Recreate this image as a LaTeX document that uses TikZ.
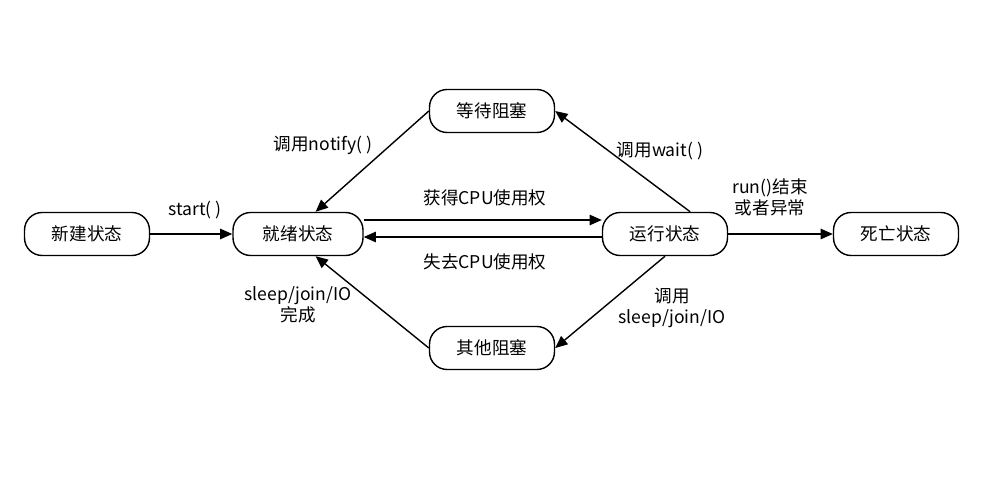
\documentclass[tikz,border=0pt]{standalone}
\usepackage{fontspec}
\setmainfont{Noto Sans CJK SC}
\usetikzlibrary{arrows.meta}
\begin{document}
\begin{tikzpicture}[x=0.02cm, y=-0.02cm,
	every node/.style={text=black, inner sep=2pt, font=\fontsize{10}{12}\selectfont},
	state/.style={draw, rounded corners=10pt, minimum width=2.5cm, minimum height=0.86cm, thick},
	tran/.style={-{Triangle[length=7pt,width=6pt]}, thick}]
	\useasboundingbox (0,0) rectangle (993,500);
	\node[state] (new) at (87,234) {新建状态};
	\node[state, minimum width=2.6cm] (ready) at (298,234) {就绪状态};
	\node[state] (run) at (665,234) {运行状态};
	\node[state] (dead) at (896,234) {死亡状态};
	\node[state] (wait) at (492,111) {等待阻塞};
	\node[state] (block) at (492,348) {其他阻塞};
	\coordinate (r1) at (ready.east |- 0,220);
	\coordinate (n1) at (run.west |- 0,220);
	\coordinate (r2) at (ready.east |- 0,237);
	\coordinate (n2) at (run.west |- 0,237);
	\draw[tran] (new) -- (ready);
	\draw[tran] (r1) -- (n1);
	\draw[tran] (n2) -- (r2);
	\draw[tran] (run) -- (dead);
	\draw[tran] (run.north east) ++(-38,0) coordinate (a) (a) -- (wait.east);
	\draw[tran] (wait.west) -- ([xshift=10pt]ready.north);
	\draw[tran] ([xshift=0pt]run.south) -- (block.east);
	\draw[tran] (block.west) -- ([xshift=10pt]ready.south);
	\node at (195,210) {start( )};
	\node at (485,198) {获得CPU使用权};
	\node at (485,262) {失去CPU使用权};
	\node[align=center] at (770,197) {run()结束\\或者异常};
	\node at (660,151) {调用wait( )};
	\node at (323,145) {调用notify( )};
	\node[align=center] at (672,308) {调用\\sleep/join/IO};
	\node[align=center] at (298,305) {sleep/join/IO\\完成};
\end{tikzpicture}
\end{document}
